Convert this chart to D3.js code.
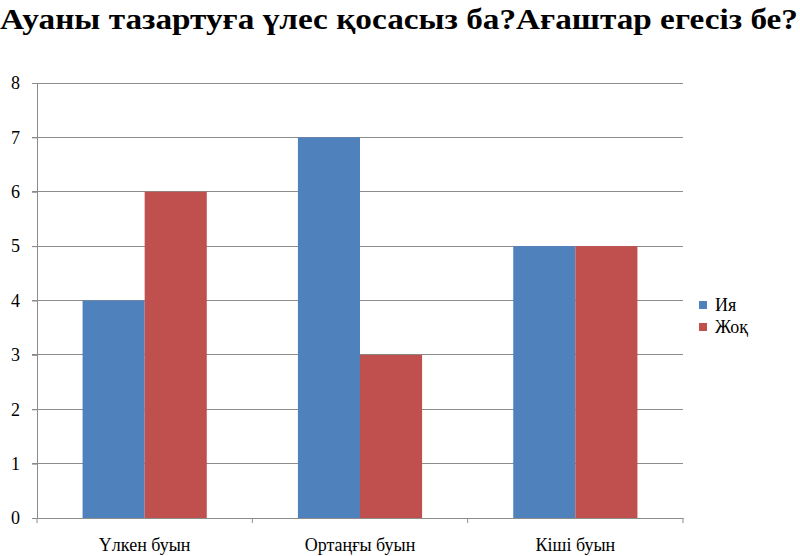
<!DOCTYPE html>
<html><head><meta charset="utf-8">
<script src="https://cdn.jsdelivr.net/npm/d3@7"></script>
<style>
body{margin:0;background:#fff;font-family:"Liberation Serif",Tinos,FreeSerif,serif}
svg{display:block}
svg text{font-family:"Liberation Serif",Tinos,FreeSerif,serif !important}
</style>
</head><body>
<script>
const title = "Ауаны тазартуға үлес қосасыз ба?Ағаштар егесіз бе?";
const categories = ["Үлкен буын", "Ортаңғы буын", "Кіші буын"];
const seriesNames = ["Ия", "Жоқ"];
const iyaValues = [4, 7, 5];
const zhokValues = [6, 3, 5];
const yTicks = [0, 1, 2, 3, 4, 5, 6, 7, 8];
const colors = ["#4F81BD", "#C0504D"];

(function () {
const W = 800, H = 556;
const FF = `"Liberation Serif", Tinos, FreeSerif, serif`;
const svg = d3.select("body").append("svg").attr("width", W).attr("height", H)
  .attr("font-family", FF).style("font-family", FF);

svg.append("text").attr("x", 0).attr("y", 29)
  .attr("font-family", FF).style("font-family", FF)
  .style("font-weight", "bold").style("font-size", "29px")
  .attr("textLength", 798).attr("lengthAdjust", "spacingAndGlyphs")
  .text(title);

const pL = 37, pR = 683, pT = 83, pB = 518;
const x = d3.scaleBand().domain(categories).range([pL, pR]).paddingInner(0).paddingOuter(0);
const y = d3.scaleLinear().domain([0, 8]).range([pB, pT]);
const xs = d3.scaleBand().domain(seriesNames).range([0, x.bandwidth()]).paddingOuter(0.734).paddingInner(0);

svg.append("g").selectAll("line").data(yTicks.filter(d => d > 0)).join("line")
  .attr("x1", pL - 5).attr("x2", pR).attr("y1", d => y(d)).attr("y2", d => y(d))
  .attr("stroke", "#8c8c8c").attr("stroke-width", 1).attr("shape-rendering", "crispEdges");

const data = [iyaValues, zhokValues];
seriesNames.forEach((s, i) => {
  svg.append("g").selectAll("rect").data(categories).join("rect")
    .attr("x", c => x(c) + xs(s)).attr("width", xs.bandwidth())
    .attr("y", (c, j) => y(data[i][j])).attr("height", (c, j) => pB - y(data[i][j]))
    .attr("fill", colors[i]);
});

const yAxis = svg.append("g").attr("transform", `translate(${pL},0)`)
  .call(d3.axisLeft(y).tickValues(yTicks).tickSize(5).tickPadding(12).tickFormat(d3.format("d")));
yAxis.attr("font-family", FF).style("font-family", FF);
yAxis.select(".domain").attr("stroke", "#8c8c8c");
yAxis.selectAll(".tick line").attr("stroke", "#8c8c8c");
yAxis.selectAll("text").attr("font-family", FF).style("font-family", FF).style("font-size", "18px").attr("fill", "#000");

const xAxis = svg.append("g").attr("transform", `translate(0,${pB})`)
  .call(d3.axisBottom(x).tickSize(0).tickPadding(20));
xAxis.attr("font-family", FF).style("font-family", FF);
xAxis.select(".domain").attr("stroke", "#8c8c8c");
xAxis.selectAll("text").attr("font-family", FF).style("font-family", FF).style("font-size", "18px").attr("fill", "#000");
const bounds = [pL, ...categories.map(c => x(c) + x.bandwidth())];
xAxis.selectAll(".sep").data(bounds).join("line").attr("class", "sep")
  .attr("x1", d => d).attr("x2", d => d).attr("y1", 0).attr("y2", 5).attr("stroke", "#8c8c8c");

const lg = svg.append("g").attr("transform", "translate(699,301)");
seriesNames.forEach((s, i) => {
  lg.append("rect").attr("x", 0).attr("y", i * 22).attr("width", 8).attr("height", 8).attr("fill", colors[i]);
  lg.append("text").attr("x", 16).attr("y", i * 22 + 10)
    .attr("font-family", FF).style("font-family", FF).style("font-size", "18px").text(s);
});
})();
</script>
</body></html>
